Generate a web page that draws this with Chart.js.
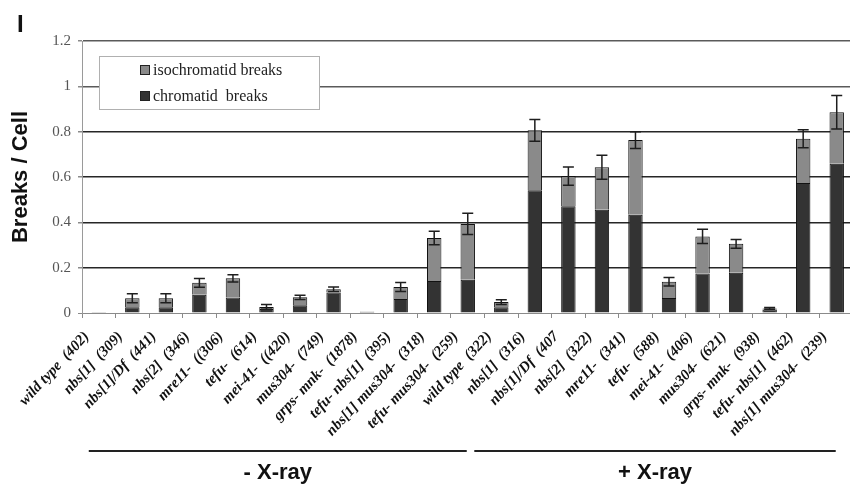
<!DOCTYPE html>
<html>
<head>
<meta charset="utf-8">
<script src="https://cdn.jsdelivr.net/npm/chart.js@4/dist/chart.umd.min.js"></script>
<style>
  html, body { margin: 0; padding: 0; background: #fff; overflow: hidden; }
  #wrap { width: 860px; height: 487px; }
</style>
</head>
<body>
<div id="wrap"><canvas id="c" width="860" height="487"></canvas></div>
<script>
// Strains (cells scored in parentheses), without and with X-ray treatment
const categories = [
  'wild type  (402)', 'nbs[1]  (309)', 'nbs[1]/Df  (441)', 'nbs[2]  (346)', 'mre11-  ((306)',
  'tefu-  (614)', 'mei-41-  ((420)', 'mus304-  (749)', 'grps- mnk-  (1878)', 'tefu- nbs[1]  (395)',
  'nbs[1] mus304-  (318)', 'tefu- mus304-  (259)',
  'wild type  (322)', 'nbs[1]  (316)', 'nbs[1]/Df  (407', 'nbs[2]  (322)', 'mre11-  (341)',
  'tefu-  (588)', 'mei-41-  (406)', 'mus304-  (621)', 'grps- mnk-  (938)', 'tefu- nbs[1]  (462)',
  'nbs[1] mus304-  (239)'
];

// Breaks per cell
const chromatidBreaks = [
  0.003, 0.025, 0.025, 0.080, 0.068, 0.018, 0.034, 0.090, 0.006, 0.062, 0.141, 0.147,
  0.025, 0.542, 0.471, 0.456, 0.433, 0.066, 0.174, 0.178, 0.015, 0.573, 0.658
];
const isochromatidBreaks = [
  0.001, 0.040, 0.040, 0.053, 0.085, 0.009, 0.035, 0.015, 0.001, 0.053, 0.190, 0.246,
  0.023, 0.264, 0.133, 0.187, 0.330, 0.072, 0.164, 0.127, 0.005, 0.196, 0.228
];
// Error of the total breaks per cell
const totalError = [
  0.000, 0.020, 0.020, 0.019, 0.016, 0.010, 0.009, 0.010, 0.000, 0.020, 0.030, 0.047,
  0.010, 0.048, 0.040, 0.053, 0.037, 0.019, 0.031, 0.019, 0.004, 0.040, 0.074
];

const yTickLabels = ['0', '0.2', '0.4', '0.6', '0.8', '1', '1.2'];

// Treatment groups (first and last category index)
const groupLabels = ['- X-ray', '+ X-ray'];
const groupFirst = [0, 12];
const groupLast = [11, 22];

const DARK = '#333333';
const GRAY = '#8a8a8a';

// Error bars on the top of each stack
const errorBars = {
  id: 'errorBars',
  afterDatasetsDraw(chart) {
    const { ctx, scales: { x, y } } = chart;
    ctx.save();
    ctx.strokeStyle = '#1e1e1e';
    ctx.lineWidth = 1.5;
    const cap = 5.5;
    categories.forEach((_, i) => {
      const e = totalError[i];
      if (!e) return;
      const total = chromatidBreaks[i] + isochromatidBreaks[i];
      const cx = x.getPixelForValue(i);
      const yHi = y.getPixelForValue(total + e);
      const yLo = y.getPixelForValue(total - e);
      ctx.beginPath();
      ctx.moveTo(cx, yLo); ctx.lineTo(cx, yHi);
      ctx.moveTo(cx - cap, yHi); ctx.lineTo(cx + cap, yHi);
      ctx.moveTo(cx - cap, yLo); ctx.lineTo(cx + cap, yLo);
      ctx.stroke();
    });
    ctx.restore();
  }
};

// Boxed legend inside the plot, group brackets below the axis, panel letter
const decorations = {
  id: 'decorations',
  afterDraw(chart) {
    const { ctx, chartArea: a, scales: { x } } = chart;
    ctx.save();

    // legend box
    const bx = a.left + 17, by = a.top + 15, bw = 220, bh = 53;
    ctx.fillStyle = '#fff';
    ctx.fillRect(bx, by, bw, bh);
    ctx.strokeStyle = '#b0b0b0';
    ctx.lineWidth = 1;
    ctx.strokeRect(bx + 0.5, by + 0.5, bw, bh);
    const items = chart.data.datasets.slice().reverse();
    ctx.font = '16px "Liberation Serif", serif';
    ctx.textBaseline = 'alphabetic';
    ctx.textAlign = 'left';
    items.forEach((ds, k) => {
      const iy = by + 9 + k * 26;
      ctx.fillStyle = ds.backgroundColor;
      ctx.fillRect(bx + 41, iy, 10, 10);
      ctx.strokeStyle = '#222';
      ctx.strokeRect(bx + 41.5, iy + 0.5, 9, 9);
      ctx.fillStyle = '#222';
      ctx.fillText(ds.label, bx + 54, iy + 10);
    });

    // treatment groups
    const pads = [10, 27];
    groupLabels.forEach((lab, g) => {
      const x1 = x.getPixelForValue(groupFirst[g]) - pads[g];
      const x2 = x.getPixelForValue(groupLast[g]) - 1;
      ctx.strokeStyle = '#222';
      ctx.lineWidth = 2;
      ctx.beginPath();
      ctx.moveTo(x1, 451); ctx.lineTo(x2, 451);
      ctx.stroke();
      ctx.fillStyle = '#111';
      ctx.font = 'bold 22px "Liberation Sans", Arial, sans-serif';
      ctx.textAlign = 'center';
      ctx.fillText(lab, (x1 + x2) / 2, 479);
    });

    // panel letter
    ctx.font = 'bold 24px "Liberation Sans", Arial, sans-serif';
    ctx.textAlign = 'left';
    ctx.fillStyle = '#111';
    ctx.fillText('I', 17, 32);
    ctx.restore();
  }
};

new Chart(document.getElementById('c'), {
  type: 'bar',
  data: {
    labels: categories,
    datasets: [
      { label: 'chromatid  breaks', data: chromatidBreaks, backgroundColor: DARK,
        borderColor: '#111', borderWidth: 1 },
      { label: 'isochromatid breaks', data: isochromatidBreaks, backgroundColor: GRAY,
        borderColor: '#111', borderWidth: 1 }
    ]
  },
  options: {
    responsive: false,
    animation: false,
    layout: { padding: { top: 41, right: 5, bottom: 0, left: 0 } },
    datasets: { bar: { barPercentage: 0.43, categoryPercentage: 1 } },
    plugins: { legend: { display: false }, tooltip: { enabled: false } },
    scales: {
      x: {
        stacked: true,
        afterFit(s) { s.height = 174; },
        border: { color: '#8a8a8a', width: 1 },
        grid: { offset: true, drawOnChartArea: false, drawTicks: true, tickLength: 5, tickColor: '#8a8a8a' },
        ticks: {
          autoSkip: false, minRotation: 47, maxRotation: 47, padding: 10, labelOffset: -12, color: '#111',
          font: { family: '"Liberation Serif", serif', size: 15, weight: 'bold', style: 'italic' }
        }
      },
      y: {
        stacked: true,
        min: 0, max: 1.2,
        afterFit(s) { s.width = 82; },
        border: { color: '#9a9a9a', width: 1 },
        grid: {
          color: (c) => c.tick.value === 0 ? '#8a8a8a' : (c.tick.value > 0.9 ? '#5a5a5a' : '#262626'),
          lineWidth: (c) => c.tick.value === 0 ? 1 : 1.5,
          tickLength: 4, tickColor: '#8a8a8a'
        },
        ticks: {
          stepSize: 0.2, padding: 7, color: '#555',
          font: { family: '"Liberation Serif", serif', size: 15 },
          callback: (v, i) => yTickLabels[i]
        },
        title: {
          display: true, text: 'Breaks / Cell', color: '#111',
          font: { family: '"Liberation Sans", Arial, sans-serif', size: 22, weight: 'bold' },
          padding: { top: 8, bottom: 0 }
        }
      }
    }
  },
  plugins: [errorBars, decorations]
});
</script>
</body>
</html>
